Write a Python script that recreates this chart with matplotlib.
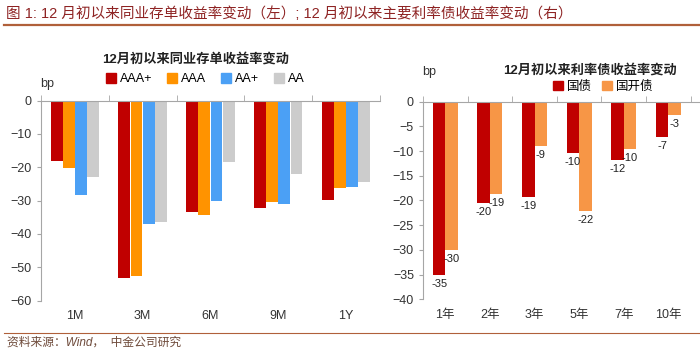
import numpy as np
import matplotlib
matplotlib.use("Agg")
import matplotlib.pyplot as plt
from matplotlib.patches import Patch
from matplotlib.lines import Line2D

plt.rcParams['font.family'] = ['Liberation Sans', 'Noto Sans CJK SC', 'DejaVu Sans']

# left chart: NCD yield change since early Dec (bp)
tenors = ['1M', '3M', '6M', '9M', '1Y']
ratings = ['AAA+', 'AAA', 'AA+', 'AA']
aaa_plus = [-18.1, -53.1, -33.5, -32.2, -29.9]
aaa = [-20.2, -52.5, -34.2, -30.4, -26.3]
aa_plus = [-28.3, -37.1, -30.2, -31.0, -25.9]
aa = [-23.0, -36.4, -18.4, -22.0, -24.5]

# right chart: rate bond yield change (bp)
# last category is cut off by the image edge in the source, only a sliver of its bar shows
bond_terms = ['1年', '2年', '3年', '5年', '7年', '10年', '']
gov = [-35.1, -20.5, -19.2, -10.4, -11.8, -7.2, -7.5]
cdb = [-30.0, -18.6, -9.0, -22.1, -9.6, -2.6, np.nan]

left_colors = ['#C00000', '#FF9300', '#4BA0F5', '#CCCCCC']
right_colors = ['#C00000', '#F79646']
grey = '#A6A6A6'

fig = plt.figure(figsize=(7, 3.5), dpi=100)

# header / footer
fig.text(0.008, 0.962, '图 1: 12 月初以来同业存单收益率变动（左）; 12 月初以来主要利率债收益率变动（右）',
         fontsize=10.5, color='#8E2323', va='center', ha='left')
fig.add_artist(Line2D([0.005, 1.0], [0.928, 0.928], color='#B0603A', lw=1.6))
fig.add_artist(Line2D([0.005, 1.0], [0.049, 0.049], color='#B0603A', lw=0.8))
fig.text(0.01, 0.022, '资料来源：Wind，  中金公司研究', fontsize=8.5, color='#6E4A3A',
         va='center', ha='left', style='italic')


def style_axes(ax, n):
    for s in ['right', 'bottom']:
        ax.spines[s].set_visible(False)
    for s in ['left', 'top']:
        ax.spines[s].set_color(grey)
        ax.spines[s].set_linewidth(0.8)
    ax.set_xlim(-0.5, n - 0.5)
    ax.set_xticks(np.arange(n))
    ax.set_xticks(np.arange(n + 1) - 0.5, minor=True)
    ax.tick_params(axis='x', which='major', length=0, pad=7, labelsize=9, colors='#333333')
    ax.tick_params(axis='x', which='minor', top=True, bottom=False, direction='out',
                   length=4, color=grey)
    ax.tick_params(axis='y', length=3, color=grey, labelsize=9, labelcolor='#333333')


# ---- left chart
ax1 = fig.add_axes([0.0586, 0.141, 0.484, 0.5714])
x = np.arange(len(tenors))
w = 0.18
for i, (vals, c) in enumerate(zip([aaa_plus, aaa, aa_plus, aa], left_colors)):
    ax1.bar(x + (i - 1.5) * w, vals, width=w * 0.97, color=c, label=ratings[i])
ax1.set_ylim(-60, 0)
ax1.set_yticks(np.arange(-60, 1, 10))
style_axes(ax1, len(tenors))
ax1.set_xticklabels(tenors)
fig.text(0.057, 0.76, 'bp', fontsize=9, color='#333333', ha='left', va='center')
fig.text(0.28, 0.83, '12月初以来同业存单收益率变动', fontsize=9.5, fontweight='bold',
         ha='center', va='center', color='#222222')
handles = [Patch(color=c) for c in left_colors]
fig.legend(handles, ratings, loc='center', bbox_to_anchor=(0.293, 0.774), ncol=4,
           frameon=False, fontsize=9, handlelength=0.8, handleheight=0.8,
           handletextpad=0.3, columnspacing=1.2)

# ---- right chart (axis runs past the right edge, as in the source)
ax2 = fig.add_axes([0.6043, 0.1449, 0.446, 0.5646])
x2 = np.arange(len(bond_terms))
w2 = 0.28
for i, (vals, c) in enumerate(zip([gov, cdb], right_colors)):
    xs = x2 + (i - 0.5) * w2
    ax2.bar(xs, vals, width=w2, color=c)
    for xi, v, name in zip(xs, vals, bond_terms):
        if np.isnan(v) or not name:
            continue
        ax2.annotate(f'{round(v):d}', (xi, v), xytext=(0, -3), textcoords='offset points',
                     ha='center', va='top', fontsize=8, color='#222222')
ax2.set_ylim(-40, 0)
ax2.set_yticks(np.arange(-40, 1, 5))
style_axes(ax2, len(bond_terms))
ax2.set_xticklabels(bond_terms)
fig.text(0.603, 0.795, 'bp', fontsize=9, color='#333333', ha='left', va='center')
fig.text(0.843, 0.80, '12月初以来利率债收益率变动', fontsize=9.5, fontweight='bold',
         ha='center', va='center', color='#222222')
handles2 = [Patch(color=c) for c in right_colors]
fig.legend(handles2, ['国债', '国开债'], loc='center', bbox_to_anchor=(0.862, 0.752), ncol=2,
           frameon=False, fontsize=9, handlelength=0.8, handleheight=0.8,
           handletextpad=0.3, columnspacing=0.8)

fig.savefig('out.png', dpi=100)
